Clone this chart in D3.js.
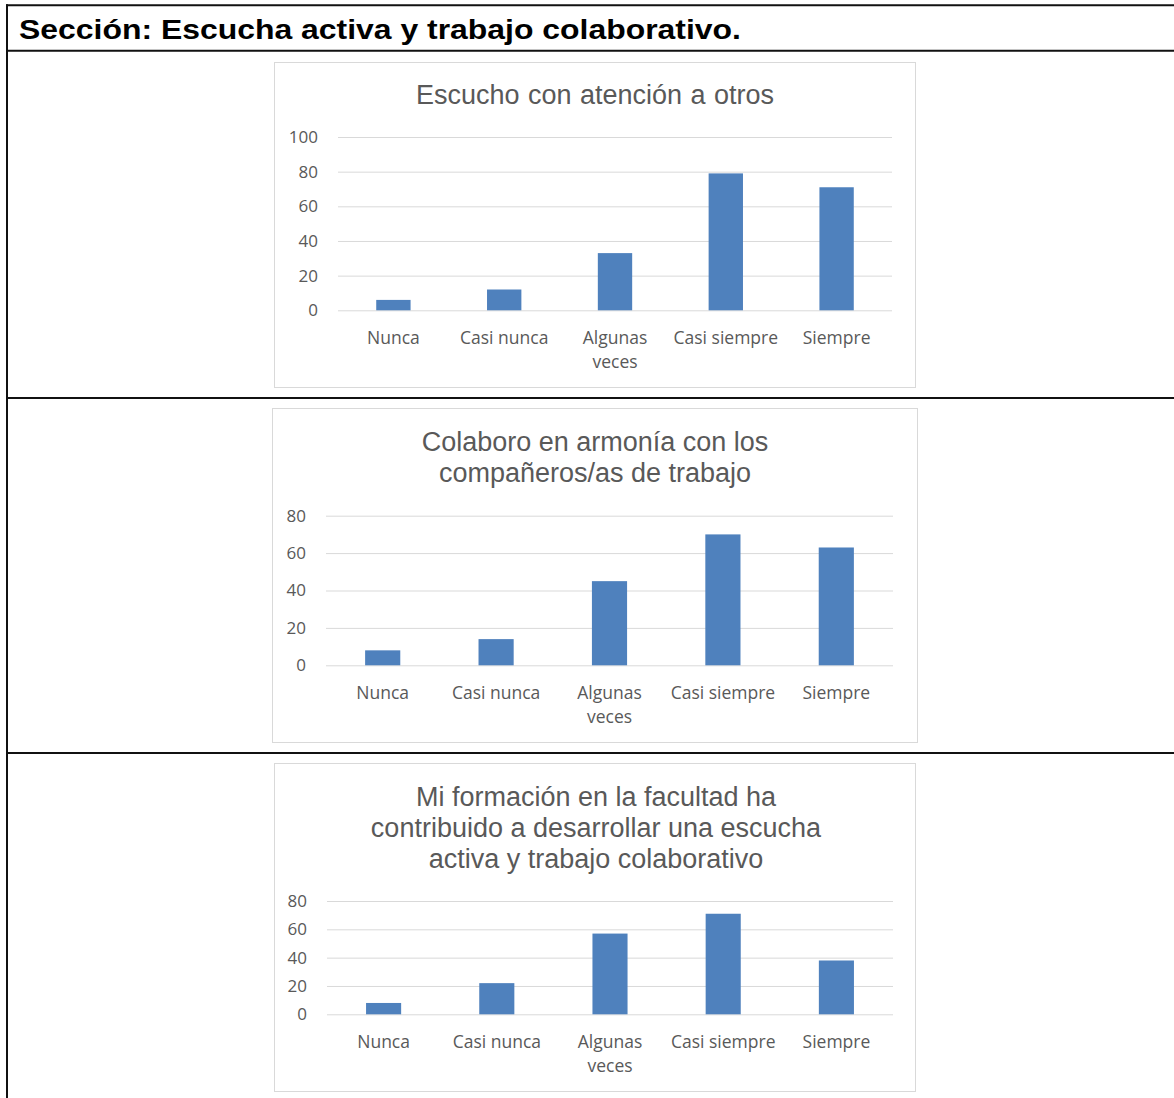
<!DOCTYPE html>
<html>
<head>
<meta charset="utf-8">
<script src="https://cdn.jsdelivr.net/npm/d3@7"></script>
<style>
    body { margin: 0; background: #fff; }
    svg { display: block; }
</style>
</head>
<body>
<div id="chart"></div>
<script>
var sectionTitle = "Sección: Escucha activa y trabajo colaborativo.";

var categories = ["Nunca", "Casi nunca", "Algunas veces", "Casi siempre", "Siempre"];

var titleEscucho = ["Escucho con atención a otros"];
var valuesEscucho = [6, 12, 33, 79, 71];
var ticksEscucho = [0, 20, 40, 60, 80, 100];

var titleColaboro = ["Colaboro en armonía con los", "compañeros/as de trabajo"];
var valuesColaboro = [8, 14, 45, 70, 63];
var ticksColaboro = [0, 20, 40, 60, 80];

var titleFormacion = ["Mi formación en la facultad ha", "contribuido a desarrollar una escucha", "activa y trabajo colaborativo"];
var valuesFormacion = [8, 22, 57, 71, 38];
var ticksFormacion = [0, 20, 40, 60, 80];

var W = 1174, H = 1098;
var textGray = "#595959";
var gridGray = "#d9d9d9";
var barBlue = "#4f81bd";

var svg = d3.select("#chart").append("svg")
    .attr("width", W)
    .attr("height", H);

// table frame
var lineColor = "#111";
[5.3, 50.7, 398, 753].forEach(function (yy) {
    svg.append("line").attr("x1", 6).attr("x2", W).attr("y1", yy).attr("y2", yy)
        .attr("stroke", lineColor).attr("stroke-width", 2);
});
svg.append("line").attr("x1", 7).attr("x2", 7).attr("y1", 4.3).attr("y2", H)
    .attr("stroke", lineColor).attr("stroke-width", 2);

svg.append("text")
    .attr("x", 19)
    .attr("y", 39)
    .attr("textLength", 722)
    .attr("lengthAdjust", "spacingAndGlyphs")
    .style("font-family", "'Liberation Sans', Arial, sans-serif")
    .style("font-weight", "bold")
    .style("font-size", "28px")
    .attr("fill", "#000")
    .text(sectionTitle);

var wrap = function (sel, width) {
    sel.each(function () {
        var text = d3.select(this);
        var words = text.text().split(/\s+/);
        var x = text.attr("x") || 0;
        text.text(null);
        var line = [];
        var tspan = text.append("tspan").attr("x", x).attr("dy", 0);
        words.forEach(function (w) {
            line.push(w);
            tspan.text(line.join(" "));
            if (tspan.node().getComputedTextLength() > width && line.length > 1) {
                line.pop();
                tspan.text(line.join(" "));
                line = [w];
                tspan = text.append("tspan").attr("x", x).attr("dy", 24).text(w);
            }
        });
    });
};

var drawChart = function (cfg, title, values, ticks) {
    var g = svg.append("g");

    g.append("rect")
        .attr("x", cfg.box[0] + 0.5)
        .attr("y", cfg.box[1] + 0.5)
        .attr("width", cfg.box[2] - cfg.box[0])
        .attr("height", cfg.box[3] - cfg.box[1])
        .attr("fill", "#fff")
        .attr("stroke", gridGray);

    g.selectAll(".title")
        .data(title)
        .enter()
        .append("text")
        .attr("class", "title")
        .attr("x", cfg.titleX)
        .attr("y", function (d, i) { return cfg.titleY + i * 31; })
        .attr("text-anchor", "middle")
        .style("font-family", "'Liberation Sans', Arial, sans-serif")
        .style("font-size", "27px")
        .style("word-spacing", cfg.wordSpacing || "0px")
        .attr("fill", textGray)
        .text(function (d) { return d; });

    var x = d3.scaleBand()
        .domain(categories)
        .range([cfg.left, cfg.right])
        .paddingInner(0.69)
        .paddingOuter(0.345);

    var y = d3.scaleLinear()
        .domain([0, ticks[ticks.length - 1]])
        .range([cfg.zero, cfg.top]);

    var yAxis = d3.axisLeft(y)
        .tickValues(ticks)
        .tickSize(-(cfg.right - cfg.left))
        .tickPadding(20);

    var ya = g.append("g")
        .attr("transform", "translate(" + cfg.left + ",0)")
        .call(yAxis);
    ya.select(".domain").remove();
    ya.selectAll("line").attr("stroke", gridGray);
    ya.selectAll("text")
        .attr("fill", textGray)
        .style("font-family", "'Open Sans', sans-serif")
        .style("font-size", "17px");

    g.selectAll(".bar")
        .data(values)
        .enter()
        .append("rect")
        .attr("class", "bar")
        .attr("x", function (d, i) { return x(categories[i]); })
        .attr("y", function (d) { return y(d); })
        .attr("width", x.bandwidth())
        .attr("height", function (d) { return cfg.zero - y(d); })
        .attr("fill", barBlue);

    var xAxis = d3.axisBottom(x).tickSize(0).tickPadding(0);
    var xa = g.append("g")
        .attr("transform", "translate(0," + cfg.zero + ")")
        .call(xAxis);
    xa.select(".domain").remove();
    xa.selectAll("text")
        .attr("y", 33.4)
        .attr("dy", 0)
        .attr("fill", textGray)
        .style("font-family", "'Open Sans', sans-serif")
        .style("font-size", "17.5px")
        .call(wrap, 110);
};

drawChart({
    box: [274, 62, 915, 387],
    titleX: 595, titleY: 104, wordSpacing: "1px",
    left: 338, right: 892, zero: 310.3, top: 137
}, titleEscucho, valuesEscucho, ticksEscucho);

drawChart({
    box: [272, 408, 917, 742],
    titleX: 595, titleY: 451,
    left: 326, right: 893, zero: 665.3, top: 515.7
}, titleColaboro, valuesColaboro, ticksColaboro);

drawChart({
    box: [274, 763, 915, 1091],
    titleX: 596, titleY: 806,
    left: 327, right: 893, zero: 1014.3, top: 901
}, titleFormacion, valuesFormacion, ticksFormacion);
</script>
</body>
</html>
